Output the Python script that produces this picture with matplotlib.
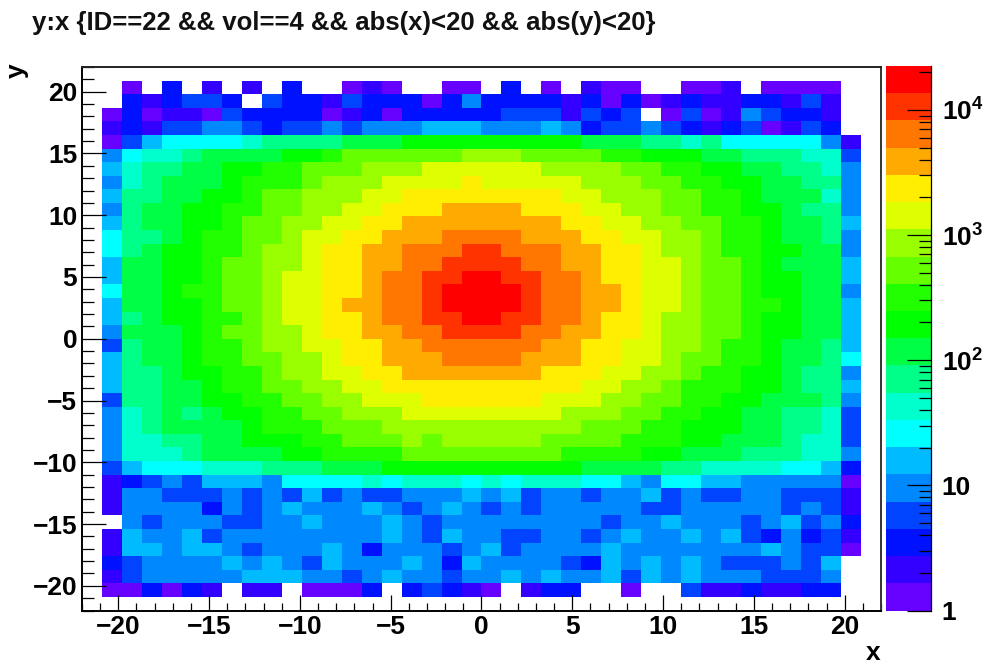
import numpy as np
import matplotlib
matplotlib.use("Agg")
import matplotlib.pyplot as plt
from matplotlib.colors import ListedColormap, LogNorm
from matplotlib.ticker import MultipleLocator, LogLocator, NullFormatter, FixedLocator, FixedFormatter

plt.rcParams['font.family'] = ['Liberation Sans', 'DejaVu Sans']
plt.rcParams['font.weight'] = 'bold'
plt.rcParams['mathtext.fontset'] = 'custom'
plt.rcParams['mathtext.bf'] = 'Liberation Sans:bold'
plt.rcParams['mathtext.rm'] = 'Liberation Sans:bold'

title = "y:x {ID==22 && vol==4 && abs(x)<20 && abs(y)<20}"

# palette bands, purple (lowest) to red (highest)
palette = ["#6600ff", "#3300ff", "#0011ff", "#0044ff", "#0088ff", "#00bbff", "#00ffff",
           "#00ffcc", "#00ff88", "#00ff44", "#00ff00", "#22ff00", "#66ff00", "#99ff00",
           "#ddff00", "#ffee00", "#ffaa00", "#ff7700", "#ff3300", "#ff0000"]
z_min = 1
z_max = 22400

# colour band read from each cell, top row first, -1 = empty bin
bands = [
    [-1,0,-1,2,-1,1,-1,1,-1,2,-1,-1,0,1,0,-1,-1,0,0,-1,2,-1,0,-1,1,0,0,-1,-1,0,0,1,-1,0,0,0,0,-1],
    [-1,2,1,2,3,3,2,-1,3,2,2,1,3,2,2,2,0,2,4,2,2,2,2,1,2,0,2,0,1,2,1,1,2,2,1,3,1,-1],
    [0,2,0,1,1,0,3,2,2,2,2,0,1,2,0,2,2,2,2,2,3,3,3,1,3,2,3,-1,0,3,0,1,4,3,2,2,1,-1],
    [1,2,1,3,3,4,4,3,2,3,3,4,3,4,4,4,5,5,5,4,4,4,5,4,2,3,3,4,3,2,1,2,3,0,1,3,2,-1],
    [0,3,5,6,6,6,6,7,8,8,8,8,9,9,9,10,10,10,10,10,10,10,10,10,9,9,9,8,8,7,8,6,6,6,6,6,4,1],
    [4,6,7,7,8,9,9,9,9,10,10,11,12,12,12,12,12,12,13,13,13,12,12,12,12,11,11,10,10,10,9,9,8,8,8,7,7,3],
    [5,7,8,8,9,9,10,10,11,11,12,12,12,13,13,13,14,14,14,14,14,14,13,13,13,13,12,12,11,11,10,10,9,9,8,8,7,4],
    [4,7,8,9,9,9,10,11,11,11,12,13,13,13,14,14,14,14,15,14,14,14,14,14,13,13,13,12,12,11,11,10,10,9,9,8,8,4],
    [5,8,8,9,9,10,10,11,12,12,13,13,13,14,14,15,15,15,15,15,15,15,15,14,14,13,13,13,12,12,11,11,10,9,9,9,7,4],
    [4,8,9,9,10,10,11,11,12,12,13,13,14,14,15,15,15,16,16,16,16,15,15,15,14,14,13,13,12,12,11,11,10,10,9,8,8,4],
    [5,8,9,9,10,10,11,12,12,13,13,14,14,15,15,16,16,16,16,16,16,16,16,15,15,14,14,13,13,12,12,11,11,10,9,9,8,5],
    [6,8,8,9,10,11,11,12,12,13,14,14,15,15,16,16,16,17,17,17,17,16,16,16,15,15,14,14,13,13,12,11,11,10,9,9,8,4],
    [6,8,9,10,10,11,11,12,13,13,14,15,15,16,16,17,17,17,18,18,17,17,17,16,16,15,15,14,13,13,12,11,11,10,10,9,9,4],
    [5,9,9,10,10,11,12,12,13,13,14,15,15,16,16,17,17,18,18,18,18,17,17,16,16,15,15,14,14,13,12,12,11,10,9,9,9,5],
    [5,9,9,10,10,11,12,12,13,14,14,15,15,16,17,17,18,18,19,19,18,18,17,17,16,15,15,14,14,13,12,12,11,10,10,9,9,5],
    [6,9,9,10,11,11,12,12,13,14,14,15,15,16,17,17,18,19,19,19,19,18,17,17,16,16,15,14,14,13,12,12,11,10,10,9,9,4],
    [5,9,9,10,10,11,12,12,13,14,14,15,16,16,17,17,18,19,19,19,19,18,17,17,16,16,15,14,14,13,12,12,11,11,10,9,9,5],
    [5,8,9,10,10,11,11,12,13,14,14,15,15,16,17,17,18,18,19,19,18,18,17,17,16,15,15,14,13,13,12,12,11,10,10,9,9,5],
    [4,9,9,9,10,11,12,12,13,13,14,15,15,16,16,17,17,18,18,18,18,17,17,16,16,15,15,14,13,13,12,12,11,10,10,9,9,5],
    [3,8,9,9,10,11,11,12,13,13,14,14,15,15,16,16,17,17,17,17,17,17,16,16,15,15,14,14,13,13,12,11,11,10,9,9,8,5],
    [5,8,9,9,10,11,11,12,12,13,13,14,15,15,16,16,16,17,17,17,17,16,16,16,15,15,14,14,13,12,12,11,11,10,9,9,8,6],
    [5,8,8,9,10,10,11,11,12,13,13,14,14,15,15,16,16,16,16,16,16,16,15,15,15,14,14,13,13,12,11,11,10,10,9,8,8,4],
    [5,8,8,9,9,10,11,11,12,12,13,13,14,14,15,15,15,15,15,15,15,15,15,15,14,14,13,13,12,11,11,11,10,10,9,8,8,5],
    [3,8,8,9,9,10,10,11,11,12,12,13,13,14,14,14,15,15,15,15,15,15,14,14,14,13,13,12,12,11,11,10,10,9,9,9,8,4],
    [4,7,8,9,8,9,10,10,11,11,12,12,13,13,13,14,14,14,14,14,14,14,14,13,13,13,12,12,11,11,10,10,9,9,8,8,7,3],
    [4,7,8,9,9,9,9,10,11,11,11,12,12,12,13,13,13,13,13,13,13,13,13,13,12,12,12,11,11,10,10,10,9,9,8,8,7,3],
    [4,7,7,8,8,9,9,10,10,10,11,11,12,12,12,13,12,13,13,13,13,13,12,12,12,12,11,11,11,10,10,9,9,9,8,7,7,3],
    [4,7,7,7,8,9,9,9,9,10,10,11,11,11,11,12,12,12,12,12,12,12,12,11,11,11,11,10,10,9,9,9,8,8,8,7,7,4],
    [3,5,6,6,6,7,7,7,8,8,8,9,9,9,10,10,10,10,10,10,10,10,10,10,9,9,9,9,8,8,7,7,7,7,6,6,5,2],
    [1,2,3,4,3,5,5,5,4,6,6,6,6,7,6,7,7,7,6,7,6,7,7,7,6,6,5,4,6,6,5,5,4,4,4,4,4,0],
    [1,4,4,3,3,3,4,3,4,3,5,3,4,3,3,4,4,4,5,4,5,3,4,4,3,4,4,5,3,4,3,3,4,4,3,3,3,1],
    [1,4,4,4,4,2,4,3,4,5,4,4,4,5,4,3,4,5,4,3,4,3,4,4,4,4,4,3,3,4,4,4,4,4,3,4,3,1],
    [-1,4,3,4,4,4,3,3,4,4,5,4,4,4,5,4,3,4,4,4,4,4,4,4,4,3,4,4,5,4,4,4,3,4,5,3,4,2],
    [1,5,4,4,5,3,4,4,4,4,4,4,4,4,5,4,3,5,4,4,3,3,4,4,3,4,5,4,4,5,4,5,3,2,4,2,3,1],
    [1,5,5,4,5,5,4,3,4,4,4,5,4,2,4,4,4,3,4,5,3,4,4,4,4,5,4,4,4,4,4,4,4,5,4,3,3,0],
    [2,3,4,4,4,4,5,4,5,4,3,5,4,4,4,5,4,2,5,4,4,4,4,3,2,5,4,5,4,5,4,3,3,3,4,3,5,-1],
    [1,3,4,4,4,4,4,5,5,5,4,4,3,4,5,4,4,3,4,4,5,4,5,4,4,5,3,5,4,5,4,4,4,3,3,3,4,-1],
    [0,0,2,0,2,1,-1,1,1,-1,0,0,0,2,-1,2,3,2,1,0,-1,1,2,2,-1,-1,0,-1,-1,3,1,1,2,1,1,2,2,-1],
]

# band index -> counts at the middle of the band (log z scale)
bands = np.array(bands, dtype=float)
counts = np.ma.masked_less(bands, 0)
counts = z_min * (z_max / z_min) ** ((counts + 0.5) / len(palette))

x_edges = np.linspace(-20.9, 20.9, 39)
y_edges = np.linspace(20.9, -20.9, 39)

W, H = 986, 664
fig = plt.figure(figsize=(W / 100, H / 100), dpi=100)
ax = fig.add_axes([82 / W, 1 - 610.5 / H, 799 / W, 543.5 / H])
cax = fig.add_axes([886 / W, 1 - 610.5 / H, 44.7 / W, 544.5 / H])

cmap = ListedColormap(palette)
norm = LogNorm(vmin=z_min, vmax=z_max)
mesh = ax.pcolormesh(x_edges, y_edges, counts, cmap=cmap, norm=norm, linewidth=0, antialiased=False)

ax.set_xlim(-22, 22)
ax.set_ylim(-22, 22)
ax.xaxis.set_major_locator(MultipleLocator(5))
ax.xaxis.set_minor_locator(MultipleLocator(1))
ax.yaxis.set_major_locator(MultipleLocator(5))
ax.yaxis.set_minor_locator(MultipleLocator(1))
ax.tick_params(axis='x', which='major', direction='in', length=11.5, width=0.9, labelsize=19, pad=3.5)
ax.tick_params(axis='x', which='minor', direction='in', length=5.8, width=0.9)
ax.tick_params(axis='y', which='major', direction='in', length=17.3, width=0.9, labelsize=19, pad=3.5)
ax.tick_params(axis='y', which='minor', direction='in', length=8.6, width=0.9)
for side in ax.spines:
    ax.spines[side].set_linewidth(1.4)
ax.spines['right'].set_color("#333333")
ax.spines['top'].set_color("#222222")

cbar = fig.colorbar(mesh, cax=cax)
cbar.outline.set_visible(False)
cax.spines['right'].set_visible(True)
cax.spines['right'].set_linewidth(0.9)
cax.yaxis.set_major_locator(FixedLocator([1, 10, 100, 1000, 10000]))
cax.yaxis.set_major_formatter(FixedFormatter(["1", "10", r"$\mathbf{10^{2}}$", r"$\mathbf{10^{3}}$", r"$\mathbf{10^{4}}$"]))
cax.yaxis.set_minor_locator(LogLocator(base=10, subs=range(2, 10), numticks=12))
cax.yaxis.set_minor_formatter(NullFormatter())
cax.tick_params(axis='y', which='major', direction='in', length=17.3, width=0.9, labelsize=19, pad=8, right=True, left=False)
cax.tick_params(axis='y', which='minor', direction='in', length=8.6, width=0.9, right=True, left=False)

fig.text(32 / W, 1 - 30 / H, title, fontsize=18.5, fontweight='bold', ha='left', va='baseline', color='#111111')
fig.text(873 / W, 1 - 660 / H, "x", fontsize=19, fontweight='bold', ha='center', va='baseline')
fig.text(29 / W, 1 - 71 / H, "y", fontsize=19, fontweight='bold', rotation=90, ha='right', va='center')

fig.savefig("out.png", dpi=100)
